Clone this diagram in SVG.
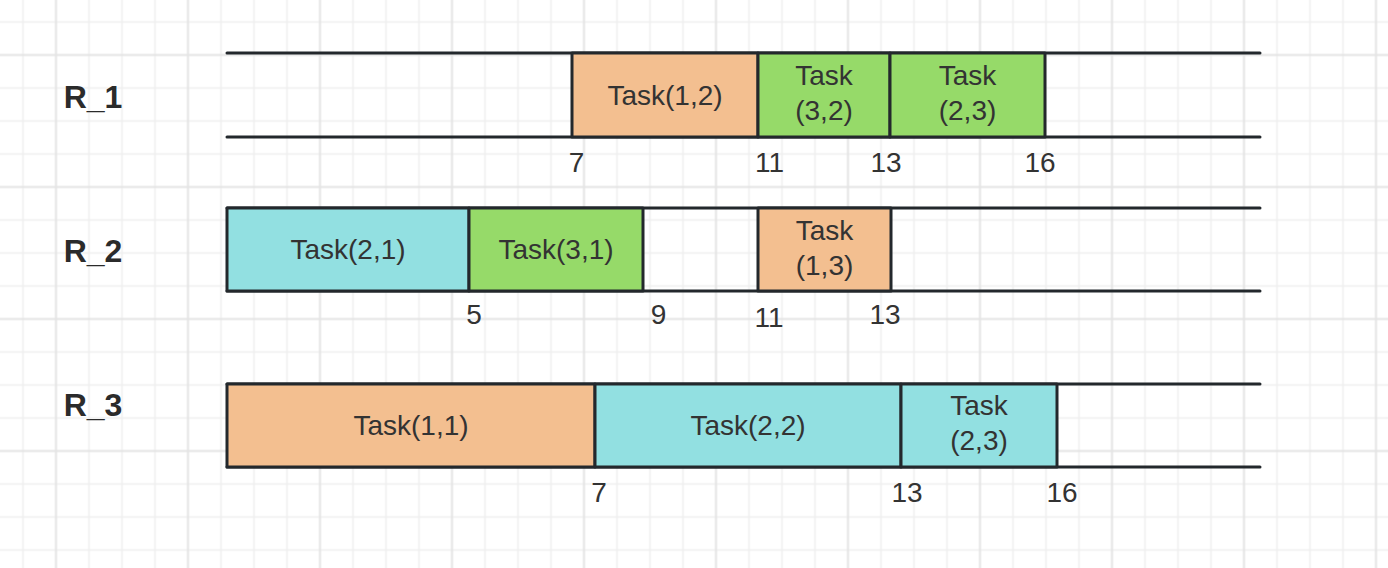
<svg xmlns="http://www.w3.org/2000/svg" width="1388" height="568" viewBox="0 0 1388 568">
<defs>
<pattern id="grid" x="39.5" y="38.5" width="132" height="132" patternUnits="userSpaceOnUse">
<path d="M49.5 0V132M82.5 0V132M115.5 0V132M0 49.5H132M0 82.5H132M0 115.5H132" stroke="#efefef" stroke-width="1.5" fill="none"/>
<path d="M16.5 0V132M0 16.5H132" stroke="#e4e4e4" stroke-width="2" fill="none"/>
</pattern>
</defs>
<style>
.lane{stroke:#23282c;stroke-width:3;fill:none;stroke-linecap:round}
.box{stroke:#23282c;stroke-width:3;stroke-linejoin:round}
.o{fill:#f3bf90}.g{fill:#96da69}.c{fill:#92e0e1}
.t{font-family:"Liberation Sans",Arial,sans-serif;font-size:28px;fill:#333;text-anchor:middle}
.r{font-family:"Liberation Sans",Arial,sans-serif;font-size:32px;font-weight:bold;fill:#2b2b2b;text-anchor:middle}
</style>
<rect width="1388" height="568" fill="#ffffff"/>
<rect width="1388" height="568" fill="url(#grid)"/>
<g id="connectors">
<path class="lane" d="M227 53H1260M227 137H1260"/>
<path class="lane" d="M227 208H1260M227 291H1260"/>
<path class="lane" d="M227 384H1260M227 467H1260"/>
</g>
<g id="label-R1"><text class="r" x="93" y="108">R_1</text></g>
<g id="label-R2"><text class="r" x="93" y="262">R_2</text></g>
<g id="label-R3"><text class="r" x="93" y="416">R_3</text></g>
<g id="task-1-2"><rect class="box o" x="572" y="53" width="186" height="84"/><text class="t" x="665" y="105">Task(1,2)</text></g>
<g id="task-3-2"><rect class="box g" x="758" y="53" width="132" height="84"/><text class="t" x="824" y="85">Task</text><text class="t" x="824" y="120">(3,2)</text></g>
<g id="task-2-3-r1"><rect class="box g" x="890" y="53" width="155" height="84"/><text class="t" x="967.5" y="85">Task</text><text class="t" x="967.5" y="120">(2,3)</text></g>
<g id="task-2-1"><rect class="box c" x="227" y="208" width="242" height="83"/><text class="t" x="348" y="259">Task(2,1)</text></g>
<g id="task-3-1"><rect class="box g" x="469" y="208" width="174" height="83"/><text class="t" x="556" y="259">Task(3,1)</text></g>
<g id="task-1-3"><rect class="box o" x="758" y="208" width="133" height="83"/><text class="t" x="824.5" y="239.5">Task</text><text class="t" x="824.5" y="274.5">(1,3)</text></g>
<g id="task-1-1"><rect class="box o" x="227" y="384" width="368" height="83"/><text class="t" x="411" y="435">Task(1,1)</text></g>
<g id="task-2-2"><rect class="box c" x="595" y="384" width="306" height="83"/><text class="t" x="748" y="435">Task(2,2)</text></g>
<g id="task-2-3-r3"><rect class="box c" x="901" y="384" width="156" height="83"/><text class="t" x="979" y="415">Task</text><text class="t" x="979" y="450">(2,3)</text></g>
<g id="ticks">
<text class="t" x="576.5" y="172">7</text>
<text class="t" x="769.5" y="172">11</text>
<text class="t" x="886" y="172">13</text>
<text class="t" x="1040" y="172">16</text>
<text class="t" x="474" y="324">5</text>
<text class="t" x="658.5" y="324">9</text>
<text class="t" x="769" y="327">11</text>
<text class="t" x="885" y="324">13</text>
<text class="t" x="599" y="502">7</text>
<text class="t" x="907" y="502">13</text>
<text class="t" x="1062" y="502">16</text>
</g>
</svg>
